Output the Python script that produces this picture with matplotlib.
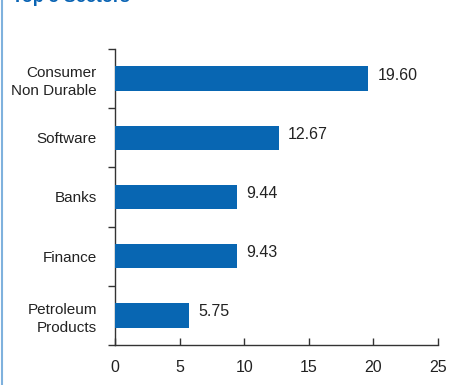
import matplotlib
matplotlib.use("Agg")
import matplotlib.pyplot as plt
from matplotlib.lines import Line2D

categories = ["Consumer\nNon Durable", "Software", "Banks", "Finance", "Petroleum\nProducts"]
values = [19.60, 12.67, 9.44, 9.43, 5.75]
xticks = [0, 5, 10, 15, 20, 25]
title = "Top 5 Sectors"

plt.rcParams['font.family'] = ['Liberation Sans', 'DejaVu Sans']

W, H = 450, 385
fig = plt.figure(figsize=(W/100, H/100), dpi=100)
ax = fig.add_axes([115/W, 1-345/H, (438-115)/W, (345-49)/H])

n = len(categories)
ypos = list(range(n))
ax.barh(ypos, values, height=0.41, color="#0866b2", zorder=3)
ax.set_ylim(n-0.5, -0.5)
ax.set_xlim(0, 25)
ax.set_xticks(xticks)
ax.set_xticklabels([str(t) for t in xticks], fontsize=11.5, color="#222222")
ax.set_yticks([i - 0.5 for i in range(n+1)])
ax.set_yticklabels([])
ax.set_yticks(ypos, minor=True)
ax.set_yticklabels(categories, minor=True, fontsize=11, color="#222222", linespacing=1.35)
ax.tick_params(axis='y', which='minor', length=0, pad=13)
ax.tick_params(axis='y', which='major', length=5, width=1, color="#333333", direction='out')
ax.tick_params(axis='x', length=5, width=1, color="#333333", direction='in', pad=11)

for s in ['top', 'right']:
    ax.spines[s].set_visible(False)
for s in ['left', 'bottom']:
    ax.spines[s].set_color("#333333")
    ax.spines[s].set_linewidth(1)

for y, v in zip(ypos, values):
    ax.text(v + 0.7, y - 0.06, f"{v:.2f}", va='center', ha='left', fontsize=11.5, color="#222222")

fig.add_artist(Line2D([2/W, 2/W], [0, 1], color="#7fb1dd", linewidth=1.5))
fig.text(12/W, 1 - 1.5/H, title, fontsize=13, fontweight='bold', color="#0a64b4", va='baseline', ha='left')

fig.savefig("out.png", dpi=100)
